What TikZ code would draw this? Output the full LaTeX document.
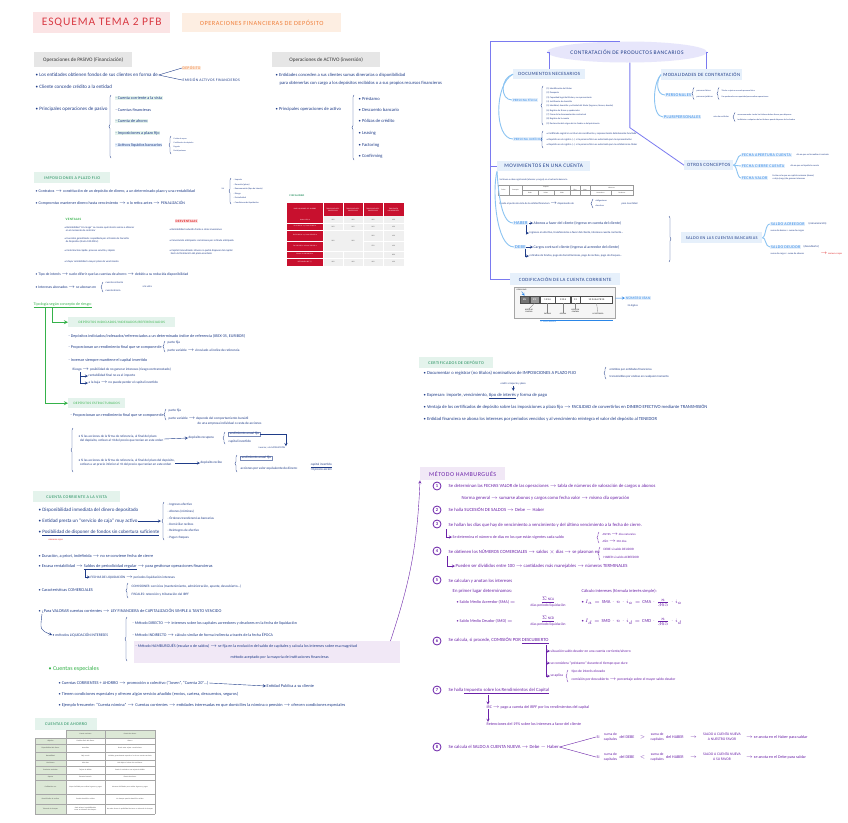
\documentclass[tikz,border=0pt]{standalone}
\usepackage{fontspec}
\setmainfont{Carlito}
\newfontfamily\capsfont[LetterSpace=8]{Carlito}
\usetikzlibrary{positioning,decorations.pathreplacing,shapes.geometric}
\definecolor{ink}{HTML}{1F3C88}
\definecolor{titred}{HTML}{D93A44}
\definecolor{titpink}{HTML}{FBE4E5}
\definecolor{orng}{HTML}{F07F3A}
\definecolor{peach}{HTML}{FDEEE2}
\definecolor{greyhd}{HTML}{E6E6E6}
\definecolor{grn}{HTML}{1E8C5A}
\definecolor{mint}{HTML}{E4F3EC}
\definecolor{lgrn}{HTML}{35B24A}
\definecolor{skyb}{HTML}{2A86E8}
\definecolor{icey}{HTML}{E6F0FB}
\definecolor{peri}{HTML}{7A7AF0}
\definecolor{lav}{HTML}{E7E6FB}
\definecolor{purp}{HTML}{6B21A8}
\definecolor{lilac}{HTML}{F1E8F6}
\definecolor{redt}{HTML}{E02424}
\definecolor{pinkl}{HTML}{FCE4E6}
\definecolor{tblred}{HTML}{C8102E}
\definecolor{curve}{HTML}{8CC4F2}
\definecolor{tabgr}{HTML}{DCE8D6}
\newcommand{\fs}[1]{\fontsize{#1}{\fpeval{1.2*#1}}\selectfont}
\newcommand{\tto}{\ensuremath{\rightarrow}}

\begin{document}
\begin{tikzpicture}[x=1pt, y=-1pt, >=stealth,
    tx/.style={anchor=west, inner sep=0.5pt, text=ink, font=\fs{5}},
    hdg/.style={anchor=north west, inner sep=0pt, fill=greyhd, text=black!80, font=\fs{5.2}},
    hdgr/.style={anchor=north west, inner sep=0pt, fill=mint, text=grn, font=\capsfont\fs{4.2}},
    hl/.style={tx, fill=mint},
    bbox/.style={anchor=north west, inner sep=0pt, fill=icey, text=ink, font=\capsfont\fs{4.8}},
    lbox/.style={anchor=west, inner sep=0.8pt, fill=icey, text=skyb, font=\capsfont\fs{4}},
    pt/.style={tx, text=purp, font=\fs{4.7}},
    cnum/.style={circle, draw=purp, text=purp, font=\bfseries\fs{4.5}, inner sep=0pt, minimum size=8pt, thick},
    cell/.style={inner sep=0pt, align=center, font=\fs{1.7}, text=black!75},
    brc/.style={decorate, decoration={brace, amplitude=2pt}, draw=ink, thin},
    frame/.style={draw=peri, line width=0.8pt},
    cv/.style={draw=curve, line width=0.9pt},
    gline/.style={draw=lgrn, line width=0.8pt}]

  \useasboundingbox[fill=white] (0,0) rectangle (848,822);

  % title
  \node[anchor=north west, fill=titpink, text=titred, font=\capsfont\fs{11.5}, minimum width=137pt, minimum height=21pt, inner sep=0pt] (title) at (33,12) {ESQUEMA TEMA 2 PFB};
  \node[anchor=north west, fill=peach, text=orng, font=\capsfont\fs{6.3}, minimum width=159pt, minimum height=19pt, inner sep=0pt] (subt) at (182,13) {OPERACIONES FINANCIERAS DE DEPÓSITO};

  % operaciones de pasivo
  \node[hdg, minimum width=98pt, minimum height=15pt] (pas) at (34,52) {Operaciones de PASIVO (Financiación)};
  \node[tx] (pas1) at (35,75) {• Los entidades obtienen fondos de sus clientes en forma de};
  \node[tx, fill=peach, text=orng, font=\capsfont\fs{3.8}] (dep) at (182,68) {DEPÓSITO};
  \node[tx, font=\capsfont\fs{3.8}] (emi) at (182,80) {EMISIÓN ACTIVOS FINANCIEROS};
  \draw[ink, thin] (pas1.east) -- (dep.west);
  \draw[ink, thin] (pas1.east) -- (emi.west);
  \node[tx] (pas2) at (35,87) {• Cliente concede crédito a la entidad};
  \node[tx] (pas3) at (35,109) {• Principales operaciones de pasivo};
  \draw[brc] (111,158) -- (111,95);
  \node[hl, font=\fs{4.2}] (pv1) at (115,98) {- Cuenta corriente a la vista};
  \node[tx, font=\fs{4.2}] (pv2) at (115,110) {- Cuentas financieras};
  \node[hl, font=\fs{4.2}] (pv3) at (115,121) {- Cuenta de ahorro};
  \node[hl, font=\fs{4.2}] (pv4) at (115,133) {- Imposiciones a plazo fijo};
  \node[tx, fill=icey, font=\fs{4.2}] (pv5) at (115,145) {- Activos líquidos bancarios};
  \draw[brc] (171,154) -- (171,136);
  \node[tx, font=\fs{2}] (al1) at (173,139) {Cesión de repos};
  \node[tx, font=\fs{2}] (al2) at (173,143) {Certificados de depósito};
  \node[tx, font=\fs{2}] (al3) at (173,147) {Pagarés};
  \node[tx, font=\fs{2}] (al4) at (173,151) {Participaciones};

  % operaciones de activo
  \node[hdg, minimum width=108pt, minimum height=15pt] (act) at (272,52) {Operaciones de ACTIVO (inversión)};
  \node[tx, font=\fs{4.6}] (act1) at (275,75) {• Entidades conceden a sus clientes sumas dinerarias o disponibilidad};
  \node[tx, font=\fs{4.6}] (act2) at (279,83) {para obtenerlas con cargo a los depósitos recibidos o a sus propios recursos financieros};
  \node[tx, font=\fs{4.6}] (act3) at (275,109) {• Principales operaciones de activo};
  \draw[brc] (354,160) -- (354,95);
  \node[tx, font=\fs{4.6}] (ac1) at (358,99) {• Préstamo};
  \node[tx, font=\fs{4.6}] (ac2) at (358,110) {• Descuento bancario};
  \node[tx, font=\fs{4.6}] (ac3) at (358,121) {• Pólizas de crédito};
  \node[tx, font=\fs{4.6}] (ac4) at (358,133) {• Leasing};
  \node[tx, font=\fs{4.6}] (ac5) at (358,145) {• Factoring};
  \node[tx, font=\fs{4.6}] (ac6) at (358,156) {• Confirming};

  % imposiciones a plazo fijo
  \node[hdgr, minimum width=76pt, minimum height=11pt] (imp) at (34,172) {IMPOSICIONES A PLAZO FIJO};
  \node[tx, font=\fs{4}] (imp1) at (35,191) {• Contratos \tto{} constitución de un depósito de dinero, a un determinado plazo y una rentabilidad};
  \node[tx, font=\fs{1.8}] (tae) at (221,189) {TAE};
  \draw[brc] (231,204) -- (231,178);
  \node[tx, font=\fs{2.2}] (ic1) at (233,180) {- Importe};
  \node[tx, font=\fs{2.2}] (ic2) at (233,184.5) {- Duración (plazo)};
  \node[tx, font=\fs{2.2}] (ic3) at (233,189) {- Remuneración (tipo de interés)};
  \node[tx, font=\fs{2.2}] (ic4) at (233,193.5) {- Riesgo};
  \node[tx, font=\fs{2.2}] (ic5) at (233,198) {- Periodicidad};
  \node[tx, font=\fs{2.2}] (ic6) at (233,202.5) {- Condiciones de liquidación};
  \node[tx, font=\fs{4}] (imp2) at (35,203) {• Compromiso mantener dinero hasta vencimiento \tto{} o lo retira antes \tto{} PENALIZACIÓN};

  % fiscalidad (tabla)
  \node[tx, text=grn, font=\capsfont\bfseries\fs{2.6}] (fis) at (289,196) {FISCALIDAD};
  \fill[tblred] (287,203) rectangle (404,216);
  \fill[tblred] (287,216) rectangle (323,266);
  \fill[black!6] (323,216) rectangle (404,266);
  \draw[white, line width=0.6pt] (287,223) -- (404,223);
  \draw[white, line width=0.6pt] (287,230) -- (404,230);
  \draw[white, line width=0.6pt] (287,241) -- (323,241);
  \draw[white, line width=0.6pt] (363,241) -- (404,241);
  \draw[white, line width=0.6pt] (287,251) -- (404,251);
  \draw[white, line width=0.6pt] (287,258) -- (404,258);
  \draw[white, line width=0.6pt] (323,203) -- (323,266);
  \draw[white, line width=0.6pt] (343,203) -- (343,230);
  \draw[white, line width=0.6pt] (343,251) -- (343,266);
  \draw[white, line width=0.6pt] (363,203) -- (363,266);
  \draw[white, line width=0.6pt] (383,203) -- (383,266);
  \node[cell, text=white, text width=34pt] (fh0) at (305,209.5) {BASE LIQUIDABLE DEL AHORRO};
  \node[cell, text=white, text width=19pt] (fh1) at (333,209.5) {TRIBUTACIÓN RESIDENTES 2021};
  \node[cell, text=white, text width=19pt] (fh2) at (353,209.5) {TRIBUTACIÓN RESIDENTES 2022};
  \node[cell, text=white, text width=19pt] (fh3) at (373,209.5) {TRIBUTACIÓN RESIDENTES 2023};
  \node[cell, text=white, text width=19pt] (fh4) at (393.5,209.5) {TRIBUTACIÓN NO RESIDENTES};
  \node[cell, text=white, text width=34pt] (fr1) at (305,219.5) {Hasta 6.000 €};
  \node[cell, text=white, text width=34pt] (fr2) at (305,226.5) {De 6.000,01 € y hasta 50.000 €};
  \node[cell, text=white, text width=34pt] (fr3) at (305,235.5) {De 50.000,01 € y hasta 200.000 €};
  \node[cell, text=white, text width=34pt] (fr4) at (305,246) {De 200.000,01 € hasta 300.000 €};
  \node[cell, text=white, text width=34pt] (fr5) at (305,254.5) {Exceso de 300.000,01 €};
  \node[cell, text=white, text width=34pt] (fr6) at (305,262) {RETENCIÓN IRPF (*)};
  \node[cell] (fv11) at (333,219.5) {19\%};
  \node[cell] (fv12) at (353,219.5) {19\%};
  \node[cell] (fv13) at (373,219.5) {19\%};
  \node[cell] (fv14) at (393.5,219.5) {19\%};
  \node[cell] (fv21) at (333,226.5) {21\%};
  \node[cell] (fv22) at (353,226.5) {21\%};
  \node[cell] (fv23) at (373,226.5) {21\%};
  \node[cell] (fv24) at (393.5,226.5) {19\%};
  \node[cell] (fv31) at (333,240.5) {23\%};
  \node[cell] (fv32) at (353,240.5) {23\%};
  \node[cell] (fv33) at (373,235.5) {23\%};
  \node[cell] (fv34) at (393.5,235.5) {19\%};
  \node[cell] (fv43) at (373,246) {27\%};
  \node[cell] (fv44) at (393.5,246) {19\%};
  \node[cell] (fv54) at (393.5,254.5) {28\%};
  \node[cell] (fv61) at (333,262) {19\%};
  \node[cell] (fv62) at (353,262) {19\%};
  \node[cell] (fv63) at (373,262) {19\%};
  \node[cell] (fv64) at (393.5,262) {19\%};

  % ventajas / desventajas
  \node[tx, text=lgrn, font=\capsfont\bfseries\fs{3.3}] (ven) at (65,219) {VENTAJAS};
  \node[tx, fill=pinkl, text=redt, font=\capsfont\bfseries\fs{3.3}] (des) at (175,221) {DESVENTAJAS};
  \node[tx, font=\fs{2.6}, align=left] (ve1) at (64,229) {• Rentabilidad “sin riesgo” se conoce qué interés vamos a obtener\\\ \ en el momento de contratar};
  \node[tx, font=\fs{2.6}, align=left] (ve2) at (64,240) {• Inversión garantizada: respaldada por el Fondo de Garantía\\\ \ de Depósitos (hasta 100.000 €)};
  \node[tx, font=\fs{2.6}] (ve3) at (64,251) {• Contratación rápida: proceso sencillo y rápido};
  \node[tx, font=\fs{2.6}] (ve4) at (64,262) {• Mayor rentabilidad a mayor plazo de vencimiento};
  \node[tx, font=\fs{2.6}] (de1) at (169,230) {• Rentabilidad reducida frente a otras inversiones};
  \node[tx, font=\fs{2.6}] (de2) at (169,241) {• Cancelación anticipada: comisiones por retirada anticipada};
  \node[tx, font=\fs{2.6}, align=left] (de3) at (169,252) {• Capital inmovilizado: dinero no podrá disponer del capital\\\ \ hasta la finalización del plazo acordado};

  \node[tx, font=\fs{3.7}] (imp3) at (35,275) {• Tipo de interés \tto{} suele diferir que las cuentas de ahorro \tto{} debido a su reducida disponibilidad};
  \node[tx, font=\fs{3.7}] (imp4) at (35,287) {• Intereses abonados \tto{} se abonan en};
  \draw[brc] (103,292) -- (103,282);
  \node[tx, font=\fs{2.6}] (ia1) at (105,283) {cuenta corriente};
  \node[tx, font=\fs{2.6}] (ia2) at (105,291) {cuenta ahorro};
  \node[tx, font=\fs{2.6}] (ia3) at (142,287) {a la vista};

  % tipologia segun riesgo
  \node[tx, text=lgrn, font=\fs{4}] (tip) at (33,305) {\underline{Tipología según concepto de riesgo:}};
  \coordinate (g1) at (45,308);
  \coordinate (g2) at (52,308);
  \node[hdgr, text=lgrn, font=\capsfont\fs{3.4}, minimum width=107pt, minimum height=10pt] (ind) at (68,317) {DEPÓSITOS INDICIADOS/INDEXADOS/REFERENCIADOS};
  \node[hdgr, text=lgrn, font=\capsfont\fs{3.4}, minimum width=57pt, minimum height=10pt] (est) at (68,398) {DEPÓSITOS ESTRUCTURADOS};
  \draw[gline, ->] (g2) |- (ind.west);
  \draw[gline, ->] (g1) |- (est.west);

  \node[tx, font=\fs{4.1}] (in1) at (68,336) {- Depósitos indiciados/indexados/referenciados a un determinado índice de referencia (IBEX-35, EURIBOR)};
  \node[tx, font=\fs{4.1}] (in2) at (68,347) {- Proporcionan un rendimiento final que se compone de};
  \draw[brc] (165,352) -- (165,341);
  \node[tx, font=\fs{3.4}] (in3) at (167,343) {parte fija};
  \node[tx, font=\fs{3.4}] (in4) at (167,351) {parte variable \tto{} vinculado al índice de referencia};
  \node[tx, font=\fs{4.1}] (in5) at (68,360) {- Inversor siempre mantiene el capital invertido};
  \node[tx, font=\fs{3.4}] (in6) at (72,370) {Riesgo \tto{} posibilidad de no generar intereses (riesgo contrarrestado)};
  \node[tx, font=\fs{3.4}] (in7) at (88,376) {rentabilidad final no es el importe};
  \node[tx, font=\fs{3.4}] (in8) at (88,383) {a la baja \tto{} no puede perder el capital invertido};
  \draw[ink, thin, ->] ([xshift=8pt]in6.south west) |- (in7.west);
  \draw[ink, thin, ->] ([xshift=8pt]in6.south west) |- (in8.west);

  \node[tx, font=\fs{4.1}] (es1) at (70,415) {- Proporcionan un rendimiento final que se compone de};
  \draw[brc] (166,420) -- (166,409);
  \node[tx, font=\fs{3.4}] (es2) at (168,411) {parte fija};
  \node[tx, font=\fs{3.4}] (es3) at (168,419) {parte variable \tto{} depende del comportamiento bursátil};
  \node[tx, font=\fs{3.4}] (es4) at (197,424) {de una empresa individual o cesta de acciones};
  \draw[brc] (73,472) -- (73,428);
  \node[tx, font=\fs{3.3}, align=left] (es5) at (78,439) {• Si las acciones de la firma de referencia, al final del plazo\\\ \ del depósito, cotizan al +X del precio que tenían en este orden};
  \node[tx, font=\fs{3.4}] (es6) at (188,438) {depósito recupera};
  \draw[ink, thin, ->] (es5.east) -- (es6.west);
  \draw[brc] (225,444) -- (225,432);
  \node[tx, font=\fs{3.4}, draw=ink!60, thin] (es7) at (228,434) {rendimiento anual fijo};
  \node[tx, font=\fs{3.4}] (es8) at (228,442) {capital invertido};
  \node[tx, font=\fs{2.4}] (es9) at (258,448) {inversor, a la SATISFACCIÓN};
  \draw[ink, thin, ->] (es7.east) -| (es9.north east);
  \node[tx, font=\fs{3.3}, align=left] (es10) at (78,463) {• Si las acciones de la firma de referencia, al final del plazo del depósito,\\\ \ cotizan a un precio inferior al +X del precio que tenían en este orden};
  \node[tx, font=\fs{3.4}] (es11) at (200,463) {depósito recibe};
  \draw[ink, thin, ->] (es10.east) -- (es11.west);
  \draw[brc] (237,472) -- (237,455);
  \node[tx, font=\fs{3.4}, draw=ink!60, thin] (es12) at (240,458) {rendimiento anual fijo};
  \node[tx, font=\fs{3.4}] (es13) at (240,469) {acciones por valor equivalente de dinero:};
  \node[tx, font=\fs{3.2}, align=center] (es14) at (310,467) {\underline{capital invertido}\\+X precio acción};

  % cuenta corriente a la vista
  \node[hdgr, minimum width=87pt, minimum height=11pt] (ccv) at (33,491) {CUENTA CORRIENTE A LA VISTA};
  \node[tx] (cc1) at (38,510) {• Disponibilidad inmediata del dinero depositado};
  \node[tx] (cc2) at (38,521) {• Entidad presta un “servicio de caja” muy activo};
  \coordinate (cc2e) at (161,521);
  \draw[ink, thin, ->] (cc2.east) -- (cc2e);
  \draw[brc] (164,540) -- (164,502);
  \node[tx, font=\fs{3.3}] (sc1) at (167,505) {- Ingresos efectivo};
  \node[tx, font=\fs{3.3}] (sc2) at (167,511.5) {- Abonos (nóminas)};
  \node[tx, font=\fs{3.3}] (sc3) at (167,518) {- Órdenes transferencias bancarias};
  \node[tx, font=\fs{3.3}] (sc4) at (167,524.5) {- Domiciliar recibos};
  \node[tx, font=\fs{3.3}] (sc5) at (167,531) {- Reintegros de efectivo};
  \node[tx, font=\fs{3.3}] (sc6) at (167,537.5) {- Pagar cheques};
  \node[tx] (cc3) at (38,533) {• \underline{Posibilidad de disponer de fondos sin cobertura suficiente}};
  \node[tx, text=redt, font=\fs{2.4}] (cc3r) at (48,539.5) {números rojos};
  \node[tx, font=\fs{4.3}] (cc4) at (38,556) {• Duración, a priori, indefinida \tto{} no se conviene fecha de cierre};
  \node[tx, font=\fs{4.3}] (cc5) at (38,567) {• Escasa rentabilidad \tto{} \underline{Saldos de periodicidad regular} \tto{} para gestionar operaciones financieras};
  \node[tx, font=\fs{3.4}] (cc6) at (90,577) {FECHAS DE LIQUIDACIÓN \tto{} periodos liquidación intereses};
  \draw[ink, thin, ->] (85,570) |- (cc6.west);
  \node[tx, font=\fs{4.3}] (cc7) at (38,590) {• Características COMERCIALES};
  \draw[brc] (128,598) -- (128,583);
  \node[tx, font=\fs{3.4}] (cc8) at (131,587) {COMISIONES: servicios (mantenimiento, administración, apunte, descubierto...)};
  \node[tx, font=\fs{3.4}] (cc9) at (131,595) {FISCALES: retención y tributación del IRPF};
  \node[tx, font=\fs{4.3}] (cc10) at (38,611) {• ¿Para VALORAR cuentas corrientes \tto{} LEY FINANCIERA de CAPITALIZACIÓN SIMPLE A TANTO VENCIDO};
  \node[tx, font=\fs{3.8}] (met) at (52,635) {• métodos LIQUIDACIÓN INTERESES};
  \draw[ink, thin, ->] ([xshift=4pt]cc10.south west) .. controls (40,630) .. (met.west);
  \draw[brc] (127,661) -- (127,617);
  \node[anchor=north west, fill=lilac, minimum width=266pt, minimum height=22pt, inner sep=0pt] (hambox) at (134,641) {};
  \node[tx, font=\fs{4}] (mt1) at (132,623) {- Método DIRECTO \tto{} intereses sobre los capitales acreedores y deudores en la fecha de liquidación};
  \node[tx, font=\fs{4}] (mt2) at (132,635) {- Método INDIRECTO \tto{} cálculo similar de forma indirecta a través de la fecha ÉPOCA};
  \node[tx, font=\fs{4}] (mt3) at (135,646) {- Método HAMBURGUÉS (escalar o de saldos) \tto{} se fija en la evolución del saldo de capitales y calcula los intereses sobre esa magnitud};
  \node[tx, font=\fs{4}] (mt4) at (230,657) {método aceptado por la mayoría de instituciones financieras};

  % cuentas especiales
  \node[tx, text=lgrn, font=\fs{6}] (esp) at (48,669) {• Cuentas especiales};
  \node[tx, font=\fs{4.3}] (ce1) at (58,683) {• Cuentas CORRIENTES + AHORRO \tto{} promoción o colectivo (“Joven”, “Cuenta 20”...)};
  \node[tx, font=\fs{4.3}] (ent) at (266,686) {Entidad Publica a su cliente};
  \draw[ink, thin, ->] (ce1.east) -- (ent.west);
  \node[tx, font=\fs{4.3}] (ce2) at (58,694) {• Tienen condiciones especiales y ofrecen algún servicio añadido (envíos, cartera, descuentos, seguros)};
  \node[tx, font=\fs{4.3}] (ce3) at (58,705) {• Ejemplo frecuente: “Cuenta nómina” \tto{} Cuentas corrientes \tto{} entidades interesadas en que domicilies la nómina o pensión \tto{} ofrecen condiciones especiales};

  % cuentas de ahorro (tabla)
  \node[hdgr, minimum width=62pt, minimum height=12pt] (cah) at (35,718) {CUENTAS DE AHORRO};
  \fill[tabgr] (66,730) rectangle (155,738);
  \fill[tabgr] (35,738) rectangle (66,814);
  \draw[black!35, line width=0.3pt] (66,730) -- (155,730);
  \draw[black!35, line width=0.3pt] (35,738) -- (155,738);
  \draw[black!35, line width=0.3pt] (35,744) -- (155,744);
  \draw[black!35, line width=0.3pt] (35,752) -- (155,752);
  \draw[black!35, line width=0.3pt] (35,760) -- (155,760);
  \draw[black!35, line width=0.3pt] (35,766) -- (155,766);
  \draw[black!35, line width=0.3pt] (35,774) -- (155,774);
  \draw[black!35, line width=0.3pt] (35,780) -- (155,780);
  \draw[black!35, line width=0.3pt] (35,794) -- (155,794);
  \draw[black!35, line width=0.3pt] (35,804) -- (155,804);
  \draw[black!35, line width=0.3pt] (35,814) -- (155,814);
  \draw[black!35, line width=0.3pt] (35,738) -- (35,814);
  \draw[black!35, line width=0.3pt] (66,730) -- (66,814);
  \draw[black!35, line width=0.3pt] (105,730) -- (105,814);
  \draw[black!35, line width=0.3pt] (155,730) -- (155,814);
  \node[cell, text width=36pt] (th1) at (85.5,734) {Cuenta corriente};
  \node[cell, text width=46pt] (th2) at (130,734) {Cuenta de ahorro};
  \node[cell, text width=29pt] (tr1) at (50.5,741) {Objetivo};
  \node[cell, text width=29pt] (tr2) at (50.5,748) {Disponibilidad del dinero};
  \node[cell, text width=29pt] (tr3) at (50.5,756) {Rentabilidad};
  \node[cell, text width=29pt] (tr4) at (50.5,763) {Comisiones};
  \node[cell, text width=29pt] (tr5) at (50.5,770) {Productos asociados};
  \node[cell, text width=29pt] (tr6) at (50.5,777) {Soporte};
  \node[cell, text width=29pt] (tr7) at (50.5,787) {Facilidad de uso};
  \node[cell, text width=29pt] (tr8) at (50.5,799) {Domiciliación de recibos};
  \node[cell, text width=29pt] (tr9) at (50.5,809) {Talonario de cheques};
  \node[cell, text width=36pt] (ta1) at (85.5,741) {Gestión diaria del dinero};
  \node[cell, text width=36pt] (ta2) at (85.5,748) {Inmediata};
  \node[cell, text width=36pt] (ta3) at (85.5,756) {Baja o nula};
  \node[cell, text width=36pt] (ta4) at (85.5,763) {Más altas};
  \node[cell, text width=36pt] (ta5) at (85.5,770) {Tarjeta de débito};
  \node[cell, text width=36pt] (ta6) at (85.5,777) {Extracto bancario};
  \node[cell, text width=36pt] (ta7) at (85.5,787) {Mayor facilidad para realizar ingresos y pagos};
  \node[cell, text width=36pt] (ta8) at (85.5,799) {Permite domiciliar recibos};
  \node[cell, text width=36pt] (ta9) at (85.5,809) {Suele ofrecer la posibilidad de tener un talonario de cheques};
  \node[cell, text width=46pt] (tb1) at (130,741) {Ahorro};
  \node[cell, text width=46pt] (tb2) at (130,748) {Puede estar sujeta a restricciones};
  \node[cell, text width=46pt] (tb3) at (130,756) {Variable, generalmente superior a la de una cuenta corriente};
  \node[cell, text width=46pt] (tb4) at (130,763) {Más bajas o incluso sin comisiones};
  \node[cell, text width=46pt] (tb5) at (130,770) {Puede ir asociada a una tarjeta de débito};
  \node[cell, text width=46pt] (tb6) at (130,777) {Libreta de ahorro};
  \node[cell, text width=46pt] (tb7) at (130,787) {Menores facilidades para realizar ingresos y pagos};
  \node[cell, text width=46pt] (tb8) at (130,799) {No siempre permite domiciliar recibos};
  \node[cell, text width=46pt] (tb9) at (130,809) {No suele ofrecer la posibilidad de tener un talonario de cheques};

  % contratacion de productos bancarios
  \node[ellipse, fill=lav, inner sep=0pt, minimum width=160pt, minimum height=21pt, text=ink, font=\capsfont\fs{5.5}] (con) at (627,52) {CONTRATACIÓN DE PRODUCTOS BANCARIOS};
  \coordinate (fr) at (con.125 -| 490,0);
  \node[bbox, minimum width=72pt, minimum height=10pt] (doc) at (513,69) {DOCUMENTOS NECESARIOS};
  \node[bbox, minimum width=81pt, minimum height=11pt] (mod) at (661,69) {MODALIDADES DE CONTRATACIÓN};
  \node[bbox, minimum width=49pt, minimum height=10pt] (otr) at (684,160) {OTROS CONCEPTOS};
  \node[bbox, font=\capsfont\fs{5.3}, minimum width=93pt, minimum height=10pt] (mov) at (497,161) {MOVIMIENTOS EN UNA CUENTA};
  \node[bbox, minimum width=110pt, minimum height=12pt] (cod) at (510,273) {CODIFICACIÓN DE LA CUENTA CORRIENTE};
  \draw[frame] (con.125) -- (fr) |- (cod.west);
  \draw[frame] (fr |- mov.west) -- (mov.west);
  \draw[frame] (con.west) -| (doc.north);
  \draw[frame] (con.east) -| ([xshift=5pt]mod.north);
  \draw[frame] (con.-75) -- ++(0,65) -- (otr.west);

  % documentos necesarios
  \node[lbox, font=\capsfont\fs{3.2}] (pf) at (512,100) {PERSONA FÍSICA};
  \node[lbox, font=\capsfont\fs{3.2}] (pj) at (513,139) {PERSONA JURÍDICA};
  \draw[cv] (doc.west) .. controls (500,78) and (500,100) .. (pf.west);
  \draw[cv] (doc.west) .. controls (494,84) and (494,139) .. (pj.west);
  \draw[brc] (543,125) -- (543,86);
  \node[tx, font=\fs{2.3}] (pf1) at (546,89) {(1) Identificación del titular};
  \node[tx, font=\fs{2.3}] (pf2) at (546,93.3) {(2) Pasaporte};
  \node[tx, font=\fs{2.3}] (pf3) at (546,97.6) {(3) Capacidad legal del titular y su representante};
  \node[tx, font=\fs{2.3}] (pf4) at (546,101.9) {(4) Justificante de domicilio};
  \node[tx, font=\fs{2.3}] (pf5) at (546,106.2) {(5) Identidad, domicilio y actividad del titular (ingresos, bienes, deudas)};
  \node[tx, font=\fs{2.3}] (pf6) at (546,110.5) {(6) Registro de firmas y apoderados};
  \node[tx, font=\fs{2.3}] (pf7) at (546,114.8) {(7) Firma de la documentación contractual};
  \node[tx, font=\fs{2.3}] (pf8) at (546,119.1) {(8) Registro de la cuenta};
  \node[tx, font=\fs{2.3}] (pf9) at (546,123.4) {(9) Declaración del origen de los fondos o del patrimonio};
  \draw[brc] (543,148) -- (543,131);
  \node[tx, font=\fs{2.5}] (pj1) at (546,134) {• Certificado registral: escritura de constitución y representación debidamente facultada};
  \node[tx, font=\fs{2.5}] (pj2) at (546,139.5) {• Depósito en el registro (...) si la persona física es autorizada para la representación};
  \node[tx, font=\fs{2.5}] (pj3) at (546,145) {• Depósito en el registro (...) si la persona física es autorizada para la entidad como titular};

  % modalidades de contratacion
  \node[lbox, font=\capsfont\fs{4.2}] (per) at (665,95) {PERSONALES};
  \node[lbox, font=\capsfont\fs{4.2}] (plu) at (663,117) {PLURIPERSONALES};
  \draw[cv] (mod.west) .. controls (656,80) and (656,95) .. (per.west);
  \draw[cv] (mod.west) .. controls (652,84) and (652,117) .. (plu.west);
  \draw[brc] (694,99.5) -- (694,87.5);
  \node[tx, font=\fs{2.2}] (pe1) at (696,90.5) {personas físicas};
  \node[tx, font=\fs{2.2}] (pe2) at (696,96.5) {personas jurídicas};
  \draw[brc] (719,99.5) -- (719,87.5);
  \node[tx, font=\fs{2.1}] (pe3) at (721,90.5) {Titular: sujeto a una sola persona física};
  \node[tx, font=\fs{2.1}] (pe4) at (721,96.5) {Un apoderado con capacidad para realizar operaciones};
  \node[tx, font=\fs{2.2}] (pl1) at (713,117) {más de un titular};
  \draw[brc] (735,121.5) -- (735,112.5);
  \node[tx, font=\fs{2.1}] (pl2) at (737,114.5) {mancomunadas: todos los titulares deben firmar para disponer};
  \node[tx, font=\fs{2.1}] (pl3) at (737,119.5) {indistintas: cualquiera de los titulares puede disponer de los fondos};

  % otros conceptos
  \node[lbox] (fa) at (741,155) {FECHA APERTURA CUENTA};
  \node[lbox] (fc) at (741,166) {FECHA CIERRE CUENTA};
  \node[lbox] (fv) at (741,178) {FECHA VALOR};
  \draw[cv] (otr.east) .. controls (737,165) and (737,155) .. (fa.west);
  \draw[cv] (otr.east) -- (fc.west);
  \draw[cv] (otr.east) .. controls (737,165) and (737,178) .. (fv.west);
  \node[tx, font=\fs{2.3}] (fa1) at (796,155) {día en que se formaliza el contrato};
  \node[tx, font=\fs{2.3}] (fc1) at (790,166) {día en que se liquida la cuenta};
  \node[tx, font=\fs{2.3}, align=left] (fv1) at (772,177) {Fecha en la que un capital comienza (abono)\\o deja (cargo) de generar intereses};

  % movimientos en una cuenta
  \node[tx, font=\fs{2.4}] (mv1) at (499,180) {Se llevan a cabo registrando (abonos y cargos) en el extracto bancario};
  \draw[black!40, line width=0.3pt] (498,185) rectangle (633,195);
  \draw[black!40, line width=0.3pt] (522,190) -- (633,190);
  \draw[black!40, line width=0.3pt] (509,185) -- (509,195);
  \draw[black!40, line width=0.3pt] (522,185) -- (522,195);
  \draw[black!40, line width=0.3pt] (538,190) -- (538,195);
  \draw[black!40, line width=0.3pt] (554,190) -- (554,195);
  \draw[black!40, line width=0.3pt] (570,185) -- (570,195);
  \draw[black!40, line width=0.3pt] (580,185) -- (580,195);
  \draw[black!40, line width=0.3pt] (590,185) -- (590,195);
  \draw[black!40, line width=0.3pt] (611,190) -- (611,195);
  \node[cell] (mt0a) at (503.5,190) {Fecha};
  \node[cell] (mt0b) at (515.5,190) {Concepto};
  \node[cell] (mt0c) at (546,187.5) {Importe};
  \node[cell] (mt0d) at (530,192.5) {Debe};
  \node[cell] (mt0e) at (546,192.5) {Haber};
  \node[cell] (mt0f) at (562,192.5) {Saldo};
  \node[cell] (mt0g) at (575,190) {Días};
  \node[cell] (mt0h) at (585,190) {Nros};
  \node[cell] (mt0i) at (611.5,187.5) {Números};
  \node[cell] (mt0j) at (600.5,192.5) {Acreedores};
  \node[cell] (mt0k) at (622,192.5) {Deudores};
  \node[tx, font=\fs{2.6}] (mv2) at (499,204) {Desde el punto de vista de la entidad financiera \tto{} disponiendo de};
  \draw[brc] (593,208) -- (593,199);
  \node[tx, font=\fs{2.2}] (mv3) at (595,201) {obligaciones};
  \node[tx, font=\fs{2.2}] (mv4) at (595,206) {derechos};
  \node[tx, font=\fs{2.6}] (mv5) at (621,204) {para la entidad};
  \node[lbox, font=\capsfont\fs{4.4}] (hab) at (513,223) {HABER};
  \node[lbox, font=\capsfont\fs{4.4}] (deb) at (514,247) {DEBE};
  \draw[cv] (mov.south west) .. controls (498,185) and (500,223) .. (hab.west);
  \draw[cv] (mov.south west) .. controls (492,190) and (496,247) .. (deb.west);
  \node[tx, font=\fs{3.8}] (hb1) at (533,223) {Abonos a favor del cliente (Ingreso en cuenta del cliente)};
  \draw[ink, thin, ->] (hab.east) -- (hb1.west);
  \node[tx, font=\fs{2.8}] (hb2) at (529,233) {ingresos en efectivo, transferencias a favor del cliente, intereses cuenta corriente...};
  \draw[ink, thin, ->] ([xshift=5pt]hab.south) |- (hb2.west);
  \node[tx, font=\fs{3.8}] (db1) at (533,247) {Cargos contra el cliente (Ingreso al acreedor del cliente)};
  \draw[ink, thin, ->] (deb.east) -- (db1.west);
  \node[tx, font=\fs{2.8}] (db2) at (529,256) {retiradas de fondos, pago de domiciliaciones, pago de recibos, pago de cheques...};
  \draw[ink, thin, ->] ([xshift=5pt]deb.south) |- (db2.west);
  \draw[brc] (669,216) -- (669,262);
  \node[bbox, font=\capsfont\fs{4.3}, minimum width=81pt, minimum height=11pt] (sal) at (681,232) {SALDO EN LAS CUENTAS BANCARIAS};
  \node[lbox] (sac) at (770,224) {SALDO ACREEDOR};
  \node[lbox] (sde) at (770,247) {SALDO DEUDOR};
  \draw[cv] (sal.east) .. controls (766,237) and (765,224) .. (sac.west);
  \draw[cv] (sal.east) .. controls (766,237) and (765,247) .. (sde.west);
  \node[tx, font=\fs{2.8}] (sa1) at (808,224) {(remuneración)};
  \node[tx, font=\fs{2.4}] (sa2) at (770,231) {suma de abonos > suma de cargos};
  \node[tx, font=\fs{2.8}] (sd1) at (803,247) {(descubierto)};
  \node[tx, font=\fs{2.4}] (sd2) at (770,254) {suma de cargos > suma de abonos};
  \node[tx, text=redt, font=\fs{2.4}] (sd3) at (820,254) {\tto{} números rojos};

  % codificacion de la cuenta corriente
  \node[anchor=north west, draw=black!35, fill=black!4, minimum width=101pt, minimum height=31pt, inner sep=0pt] (iban) at (514,287) {};
  \node[tx, font=\bfseries\fs{1.8}, text=black!70] (cpa) at (516,290) {CÓDIGO PAÍS};
  \node[cell, draw=black!70, fill=black!55, text=white, font=\bfseries\fs{2.6}, minimum width=9pt, minimum height=7pt] (ib1) at (524.5,299.5) {ES};
  \node[cell, draw=black!70, fill=black!40, text=white, font=\bfseries\fs{2.6}, minimum width=9pt, minimum height=7pt] (ib2) at (534.5,299.5) {21};
  \node[cell, draw=black!70, fill=white, font=\bfseries\fs{2.4}, minimum width=15pt, minimum height=7pt] (ib3) at (547.5,299.5) {1\,2\,3\,4};
  \node[cell, draw=black!70, fill=white, font=\bfseries\fs{2.4}, minimum width=15pt, minimum height=7pt] (ib4) at (563,299.5) {1\,2\,3\,4};
  \node[cell, draw=black!70, fill=white, font=\bfseries\fs{2.4}, minimum width=9pt, minimum height=7pt] (ib5) at (575.5,299.5) {1\,2};
  \node[cell, draw=black!70, fill=white, font=\bfseries\fs{2.4}, minimum width=32pt, minimum height=7pt] (ib6) at (596.5,299.5) {1\,2\,3\,4\,5\,6\,7\,8\,9\,0};
  \draw[skyb, thin, ->] (cpa.south) -- (ib1.north);
  \node[cell, font=\bfseries\fs{1.8}] (il1) at (529,311) {DÍGITO DE\\CONTROL};
  \node[cell, font=\bfseries\fs{1.8}] (il2) at (547.5,314) {ENTIDAD};
  \node[cell, font=\bfseries\fs{1.8}] (il3) at (563,314) {OFICINA};
  \node[cell, font=\bfseries\fs{1.8}] (il4) at (575.5,311) {DÍGITO DE\\CONTROL};
  \node[cell, font=\bfseries\fs{1.8}] (il5) at (598,314) {Nº DE CUENTA};
  \draw[black!50, line width=0.3pt] (ib2.south) -- (il1.north);
  \draw[black!50, line width=0.3pt] (ib3.south) -- (il2.north);
  \draw[black!50, line width=0.3pt] (ib4.south) -- (il3.north);
  \draw[black!50, line width=0.3pt] (ib5.south) -- (il4.north);
  \draw[black!50, line width=0.3pt] (ib6.south) -- (il5.north);
  \node[tx, text=skyb, font=\fs{2}] (ibc) at (540,321.5) {nº cuenta bancaria};
  \draw[skyb, thin] (ibc.north west) -- ([xshift=73pt]ibc.north west);
  \node[lbox, font=\capsfont\fs{3.6}] (ibn) at (625,298) {NÚMERO IBAN};
  \draw[skyb, thin, ->] ([yshift=4.5pt]iban.east) -- (ibn.west);
  \node[tx, font=\fs{2.6}] (ibd) at (627,306) {24 dígitos};

  % certificados de deposito
  \node[hdgr, minimum width=74pt, minimum height=11pt] (cer) at (419,357) {CERTIFICADOS DE DEPÓSITO};
  \node[tx, font=\fs{4.6}] (ct1) at (423,373) {• Documentar o registrar (no títulos) nominativos de IMPOSICIONES A PLAZO FIJO};
  \draw[brc] (606,379) -- (606,367);
  \node[tx, font=\fs{3}] (ct2) at (609,369.5) {emitidos por entidades financieras};
  \node[tx, font=\fs{3}] (ct3) at (609,376.5) {transmisibles por endoso en cualquier momento};
  \node[tx, font=\fs{2.6}] (ct4) at (500,384) {emitir a importe y plazo};
  \draw[ink, thin, ->] (ct4.south) -- ++(0,5);
  \node[tx, font=\fs{4.6}] (ct5) at (423,396) {• Expresan: importe, vencimiento, \underline{tipo de interés} y forma de pago};
  \node[tx, font=\fs{4.6}] (ct6) at (423,407) {• Ventaja de los certificados de depósito sobre las imposiciones a plazo fijo \tto{} FACILIDAD de convertirlos en DINERO EFECTIVO mediante TRANSMISIÓN};
  \node[tx, font=\fs{4.6}] (ct7) at (423,419) {• Entidad financiera se abona los intereses por periodos vencidos y al vencimiento reintegra el valor del depósito al TENEDOR};

  % metodo hamburgues
  \node[anchor=north west, fill=lilac, text=purp, font=\capsfont\fs{6}, minimum width=85pt, minimum height=13pt, inner sep=0pt] (mh) at (420,467) {MÉTODO HAMBURGUÉS};
  \draw[purp, thin, ->] ([xshift=-10pt]hambox.north east) to[bend right=8] (mh.south west);

  % paso 1
  \node[cnum] (n1) at (437,486) {1};
  \node[pt] (h1) at (448,486) {Se determinan las FECHAS VALOR de las operaciones \tto{} tabla de números de valoración de cargos o abonos};
  \node[pt] (h1b) at (461,498) {Norma general \tto{} sumarse abonos y cargos como fecha valor \tto{} mismo día operación};
  % paso 2
  \node[cnum] (n2) at (437,510) {2};
  \node[pt] (h2) at (448,510) {Se halla SUCESIÓN DE SALDOS \tto{} Debe $-$ Haber};
  % paso 3
  \node[cnum] (n3) at (437,524) {3};
  \node[pt] (h3) at (448,525) {Se hallan los días que hay de vencimiento a vencimiento y del último vencimiento a la fecha de cierre.};
  \node[pt, font=\fs{4}] (h3b) at (452,537) {Se determina el número de días en los que están vigentes cada saldo};
  \draw[purp, thin, ->] (446,529) |- (h3b.west);
  \draw[decorate, decoration={brace, amplitude=2pt}, draw=purp, thin] (599,543) -- (599,532);
  \node[pt, font=\fs{3}] (h3c) at (602,534) {ANTES \tto{} días naturales};
  \node[pt, font=\fs{3}] (h3d) at (602,541) {AÑO \tto{} 365 días};
  % paso 4
  \node[cnum] (n4) at (437,551) {4};
  \node[pt] (h4) at (448,552) {Se obtienen los NÚMEROS COMERCIALES \tto{} saldos $\times$ días \tto{} se plasman en};
  \draw[decorate, decoration={brace, amplitude=2pt}, draw=purp, thin] (600,560) -- (600,547);
  \node[pt, font=\fs{3.3}] (h4b) at (603,549.5) {DEBE si saldo DEUDOR};
  \node[pt, font=\fs{3.3}] (h4c) at (603,557.5) {HABER si saldo ACREEDOR};
  \node[pt] (h4d) at (455,566) {Pueden ser divididos entre 100 \tto{} cantidades más manejables \tto{} números TERMINALES};
  \draw[purp, thin, ->] (447,556) |- (h4d.west);
  % paso 5
  \node[cnum] (n5) at (437,580) {5};
  \node[pt] (h5) at (448,581) {Se calculan y anotan los intereses};
  \node[pt] (h5b) at (452,591) {En primer lugar determinamos:};
  \node[pt, font=\fs{4.2}] (h5c) at (456,602) {• Saldo Medio Acreedor (SMA) $=$};
  \node[pt, font=\fs{3.6}, align=center] (h5d) at (530,602) {\underline{$\Sigma$ NCA}\\días periodo liquidación};
  \node[pt, font=\fs{4.2}] (h5e) at (456,621) {• Saldo Medio Deudor (SMD) $=$};
  \node[pt, font=\fs{3.6}, align=center] (h5f) at (530,621) {\underline{$\Sigma$ NCD}\\días periodo liquidación};
  \node[pt, font=\fs{4.4}] (h5g) at (581,591) {Cálculo intereses (fórmula interés simple):};
  \node[pt, font=\fs{4.6}] (h5h) at (581,603) {• $I_a = \mathrm{SMA}\cdot n\cdot i_a = \mathrm{CMA}\cdot\frac{n}{365}\cdot i_a$};
  \node[pt, font=\fs{4.6}] (h5i) at (581,622) {• $I_d = \mathrm{SMD}\cdot n\cdot i_d = \mathrm{CMD}\cdot\frac{n}{365}\cdot i_d$};
  % paso 6
  \node[cnum] (n6) at (437,641) {6};
  \node[pt] (h6) at (448,641) {Se calcula, si procede, COMISIÓN POR \underline{DESCUBIERTO}};
  \coordinate (h6v) at (546,645);
  \node[pt, font=\fs{3.6}] (h6a) at (550,651) {situación saldo deudor en una cuenta corriente/ahorro};
  \node[pt, font=\fs{3.6}] (h6b) at (550,663) {se considera “préstamo” durante el tiempo que dure};
  \node[pt, font=\fs{3.6}] (h6c) at (550,676) {se aplica};
  \draw[purp, thin, ->] (h6v) |- (h6a.west);
  \draw[purp, thin, ->] (h6v) |- (h6b.west);
  \draw[purp, thin, ->] (h6v) |- (h6c.west);
  \draw[decorate, decoration={brace, amplitude=2pt}, draw=purp, thin] (568,682) -- (568,670);
  \node[pt, font=\fs{3.6}] (h6d) at (571,672) {tipo de interés elevado};
  \node[pt, font=\fs{3.6}] (h6e) at (571,680) {comisión por descubierto \tto{} porcentaje sobre el mayor saldo deudor};
  % paso 7
  \node[cnum] (n7) at (437,690) {7};
  \node[pt] (h7) at (448,691) {Se halla \underline{Impuesto sobre los Rendimientos del Capital}};
  \node[pt, font=\fs{4}] (h7a) at (486,707) {IRC \tto{} pago a cuenta del IRPF por los rendimientos del capital};
  \node[pt, font=\fs{4}] (h7b) at (486,724) {Retenciones del 19\% sobre los intereses a favor del cliente};
  \draw[purp, thin, ->] ([xshift=40pt]h7.south west) -- ([xshift=2pt]h7a.north west);
  \draw[purp, thin, ->] ([xshift=2pt]h7a.south west) -- ([xshift=2pt]h7b.north west);
  % paso 8
  \node[cnum] (n8) at (437,747) {8};
  \node[pt] (h8) at (448,747) {Se calcula el SALDO A CUENTA NUEVA \tto{} Debe $-$ Haber};
  \node[pt, font=\fs{4.1}] (h8a) at (596,737) {Si};
  \node[pt, font=\fs{4.1}] (h8b) at (596,757) {Si};
  \draw[purp, thin] (h8.east) -- (h8a.west);
  \draw[purp, thin] (h8.east) -- (h8b.west);
  \node[pt, font=\fs{3.7}, align=center, right=3pt of h8a] (h8c) {suma de\\capitales};
  \node[pt, font=\fs{4.1}, right=1pt of h8c] (h8d) {del DEBE};
  \node[pt, font=\fs{4.1}, right=4pt of h8d] (h8e) {$>$};
  \node[pt, font=\fs{3.7}, align=center, right=4pt of h8e] (h8f) {suma de\\capitales};
  \node[pt, font=\fs{4.1}, right=1pt of h8f] (h8g) {del HABER};
  \node[pt, font=\fs{4.1}, right=5pt of h8g] (h8h) {\tto};
  \node[pt, font=\fs{3.7}, align=center, right=5pt of h8h] (h8i) {SALDO A CUENTA NUEVA\\A NUESTRO FAVOR};
  \node[pt, font=\fs{4.1}, right=4pt of h8i] (h8j) {\tto{} se anota en el Haber para saldar};
  \node[pt, font=\fs{3.7}, align=center, right=3pt of h8b] (h8k) {suma de\\capitales};
  \node[pt, font=\fs{4.1}, right=1pt of h8k] (h8l) {del DEBE};
  \node[pt, font=\fs{4.1}, right=4pt of h8l] (h8m) {$<$};
  \node[pt, font=\fs{3.7}, align=center, right=4pt of h8m] (h8n) {suma de\\capitales};
  \node[pt, font=\fs{4.1}, right=1pt of h8n] (h8o) {del HABER};
  \node[pt, font=\fs{4.1}, right=5pt of h8o] (h8p) {\tto};
  \node[pt, font=\fs{3.7}, align=center, right=5pt of h8p] (h8q) {SALDO A CUENTA NUEVA\\A SU FAVOR};
  \node[pt, font=\fs{4.1}, right=4pt of h8q] (h8r) {\tto{} se anota en el Debe para saldar};
\end{tikzpicture}
\end{document}
